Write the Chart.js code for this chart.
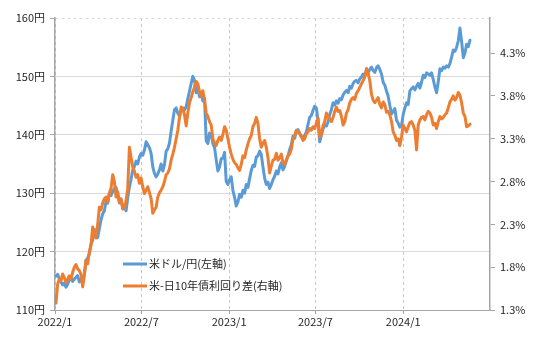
<!DOCTYPE html>
<html lang="ja">
<head>
<meta charset="utf-8">
<script src="https://cdn.jsdelivr.net/npm/chart.js@4.4.1/dist/chart.umd.min.js"></script>
<style>
  html, body { margin: 0; padding: 0; background: #fff; }
  #wrap { width: 540px; height: 341px; }
</style>
</head>
<body>
<div id="wrap"><canvas id="chart-spread" width="540" height="341"></canvas></div>
<script>
// two readings a week (Mon / Thu), starting on this date
const firstDay = "2022-01-03";
const stepDays = 3.5;
const axisStart = "2022-01-01";
const axisEnd = "2024-07-01";
const xTickDates = ["2022-01-01", "2022-07-01", "2023-01-01", "2023-07-01", "2024-01-01"];
const xTickLabels = ["2022/1", "2022/7", "2023/1", "2023/7", "2024/1"];
const yenTicks = [110, 120, 130, 140, 150, 160];
const spreadTicks = [1.3, 1.8, 2.3, 2.8, 3.3, 3.8, 4.3];
const seriesLabels = ["米ドル/円(左軸)", "米-日10年債利回り差(右軸)"];

// 米ドル/円
const usdJpy = [
  115.8, 116.1, 115.4, 114.8, 114.3, 114.6, 113.9, 114.4, 115.2, 115.6,
  114.9, 115.3, 115.6, 115.9, 114.8, 115.3, 115.0, 116.2, 118.5, 118.9,
  119.6, 121.2, 122.0, 123.8, 122.8, 122.4, 124.0, 125.4, 126.5, 127.0,
  128.6, 128.3, 130.0, 129.6, 130.3, 130.8, 131.0, 129.7, 128.5, 128.9,
  127.3, 127.9, 127.0, 129.2, 131.0, 132.4, 134.0, 134.6, 135.5, 135.0,
  136.2, 136.8, 136.5, 137.4, 138.8, 138.3, 137.8, 136.8, 134.5, 133.4,
  132.8, 133.3, 134.0, 135.0, 133.8, 134.9, 137.2, 137.6, 138.6, 140.6,
  142.5, 144.3, 144.6, 143.7, 143.2, 144.2, 144.6, 144.3, 144.8, 146.2,
  147.5, 148.8, 150.0, 149.3, 147.2, 148.0, 146.5, 147.3, 145.8, 146.2,
  139.0, 138.5, 140.3, 140.0, 138.5, 137.8, 135.7, 133.8, 134.5, 135.9,
  136.0, 137.0, 132.0, 131.5, 132.3, 132.8, 130.5, 129.3, 127.8, 128.5,
  129.8, 129.3, 130.5, 130.0, 131.5, 131.0, 132.5, 133.9, 134.8, 134.6,
  136.2, 136.4, 137.2, 136.6, 134.5, 132.6, 131.5, 131.9, 130.8, 131.5,
  132.3, 132.9, 133.8, 133.3, 134.5, 135.2, 134.0, 134.6, 135.6, 136.4,
  137.5, 138.3, 139.8, 139.4, 140.6, 140.9, 140.2, 139.6, 139.5, 139.9,
  140.5, 141.8, 143.0, 143.3, 144.2, 144.9, 144.6, 142.4, 138.8, 139.9,
  141.0, 141.7, 141.5, 142.2, 143.5, 144.3, 145.5, 145.1, 145.8, 145.4,
  146.2, 146.0, 146.8, 147.3, 147.6, 147.2, 148.3, 148.0, 148.8, 149.2,
  149.3, 148.9, 149.6, 149.9, 150.4, 150.2, 150.8, 150.6, 151.2, 151.6,
  151.0, 150.7, 151.5, 151.8, 151.2, 150.4, 149.0, 148.5, 147.5, 146.6,
  145.0, 143.6, 144.0, 144.5, 142.5, 142.0, 141.3, 141.6, 143.5, 144.6,
  145.5, 145.2, 147.5, 147.9, 148.2, 147.7, 148.3, 148.8, 148.0, 149.0,
  150.2, 149.8, 150.6, 150.4, 150.2, 150.6, 149.5, 148.2, 147.2, 149.1,
  151.3, 151.0, 151.6, 151.4, 151.8, 151.6, 152.2, 153.3, 154.5, 154.3,
  155.0, 156.1, 158.3, 156.0, 153.2, 154.0, 155.5, 155.1, 156.2
];

// 米10年債利回り - 日10年債利回り (%)
const spread = [
  1.38, 1.60, 1.66, 1.64, 1.72, 1.68, 1.62, 1.66, 1.70, 1.66,
  1.74, 1.80, 1.83, 1.78, 1.76, 1.72, 1.57, 1.70, 1.88, 1.84,
  1.98, 2.06, 2.27, 2.20, 2.14, 2.30, 2.50, 2.47, 2.55, 2.60,
  2.62, 2.56, 2.67, 2.72, 2.88, 2.80, 2.62, 2.68, 2.55, 2.60,
  2.50, 2.48, 2.58, 2.72, 3.20, 3.08, 2.97, 2.92, 2.85, 2.88,
  2.78, 2.84, 2.74, 2.66, 2.70, 2.74, 2.67, 2.60, 2.43, 2.47,
  2.50, 2.62, 2.67, 2.70, 2.74, 2.80, 2.88, 2.90, 2.95, 3.05,
  3.12, 3.20, 3.30, 3.40, 3.55, 3.67, 3.65, 3.58, 3.45, 3.60,
  3.72, 3.78, 3.85, 3.90, 3.97, 3.94, 3.85, 3.80, 3.86, 3.75,
  3.60, 3.56, 3.50, 3.46, 3.30, 3.25, 3.22, 3.28, 3.32, 3.28,
  3.35, 3.44, 3.40, 3.30, 3.20, 3.12, 3.06, 3.02, 3.00, 2.96,
  2.93, 3.00, 3.10, 3.08, 3.17, 3.24, 3.30, 3.34, 3.44, 3.48,
  3.55, 3.48, 3.30, 3.20, 3.25, 3.28, 3.20, 3.08, 2.90, 2.98,
  3.05, 3.06, 3.13, 3.05, 3.08, 3.12, 3.02, 3.00, 3.05, 3.10,
  3.12, 3.18, 3.30, 3.34, 3.40, 3.38, 3.36, 3.33, 3.28, 3.30,
  3.36, 3.38, 3.42, 3.40, 3.44, 3.42, 3.48, 3.54, 3.32, 3.36,
  3.45, 3.50, 3.60, 3.56, 3.53, 3.50, 3.55, 3.62, 3.67, 3.62,
  3.63, 3.56, 3.46, 3.50, 3.60, 3.64, 3.72, 3.76, 3.78, 3.76,
  3.83, 3.86, 3.90, 3.94, 3.98, 4.02, 4.12, 4.06, 3.98, 3.82,
  3.75, 3.72, 3.75, 3.78, 3.70, 3.66, 3.73, 3.70, 3.61, 3.62,
  3.58, 3.50, 3.38, 3.34, 3.28, 3.30, 3.22, 3.32, 3.46, 3.42,
  3.38, 3.44, 3.49, 3.50, 3.46, 3.40, 3.17, 3.46, 3.52, 3.55,
  3.56, 3.52, 3.58, 3.62, 3.60, 3.55, 3.46, 3.48, 3.42, 3.50,
  3.56, 3.53, 3.55, 3.58, 3.60, 3.66, 3.73, 3.76, 3.80, 3.75,
  3.78, 3.84, 3.81, 3.72, 3.60, 3.56, 3.44, 3.45, 3.47
];

const BLUE = "#5b9bd5";
const ORANGE = "#ed7d31";
const AXIS_GRAY = "#a6a6a6";
const GRID_GRAY = "#d9d9d9";
const TEXT = "#262626";

function dayOffset(date) {
  return (Date.parse(date) - Date.parse(axisStart)) / 86400000;
}

function toPoints(values) {
  const start = dayOffset(firstDay);
  return values.map((v, i) => ({ x: start + stepDays * i, y: v }));
}

// legend drawn inside the plot, lower left
const insideLegend = {
  id: "insideLegend",
  afterDatasetsDraw(chart) {
    const ctx = chart.ctx;
    const { left, bottom } = chart.chartArea;
    const x0 = left + 68;
    ctx.save();
    ctx.font = '11px "Noto Sans CJK JP", sans-serif';
    ctx.textBaseline = "middle";
    chart.data.datasets.forEach((ds, i) => {
      const y = bottom - 46 + i * 22;
      ctx.strokeStyle = ds.borderColor;
      ctx.lineWidth = 3;
      ctx.beginPath();
      ctx.moveTo(x0, y);
      ctx.lineTo(x0 + 24, y);
      ctx.stroke();
      ctx.fillStyle = TEXT;
      ctx.fillText(seriesLabels[i], x0 + 26, y);
    });
    ctx.restore();
  }
};

Chart.defaults.font.family = '"Noto Sans CJK JP", "Noto Sans", sans-serif';
Chart.defaults.font.size = 11;
Chart.defaults.color = TEXT;

new Chart(document.getElementById("chart-spread"), {
  type: "line",
  data: {
    datasets: [
      { label: seriesLabels[0], data: toPoints(usdJpy), yAxisID: "yen", borderColor: BLUE, borderWidth: 3, pointRadius: 0, order: 2 },
      { label: seriesLabels[1], data: toPoints(spread), yAxisID: "pct", borderColor: ORANGE, borderWidth: 3, pointRadius: 0, order: 1 },
    ],
  },
  options: {
    responsive: false,
    animation: false,
    events: [],
    layout: { padding: { top: 18, left: 0, right: 0, bottom: 0 } },
    plugins: { legend: { display: false }, tooltip: { enabled: false } },
    elements: { line: { tension: 0, borderJoinStyle: "round", borderCapStyle: "round" } },
    scales: {
      x: {
        type: "linear",
        min: 0,
        max: dayOffset(axisEnd),
        afterBuildTicks: (scale) => { scale.ticks = xTickDates.map((d) => ({ value: dayOffset(d) })); },
        afterFit: (scale) => { scale.height = 31; },
        ticks: { autoSkip: false, maxRotation: 0, padding: 1, callback: (value, index) => xTickLabels[index] },
        grid: { color: "#c8c8c8", tickColor: AXIS_GRAY, tickLength: 4 },
        border: { color: AXIS_GRAY, width: 1, dash: [3, 3] },
      },
      yen: {
        type: "linear",
        position: "left",
        min: 110,
        max: 160,
        afterBuildTicks: (scale) => { scale.ticks = yenTicks.map((v) => ({ value: v })); },
        afterFit: (scale) => { scale.width = 55; },
        ticks: { autoSkip: false, padding: 5, callback: (value) => `${value}円` },
        grid: { color: GRID_GRAY, tickColor: AXIS_GRAY, tickLength: 5 },
        border: { color: AXIS_GRAY, width: 1.5, dash: (ctx) => (ctx.tick && ctx.tick.value === 160 ? [3, 3] : []) },
      },
      pct: {
        type: "linear",
        position: "right",
        min: 1.3,
        max: 4.71,
        afterBuildTicks: (scale) => { scale.ticks = spreadTicks.map((v) => ({ value: v })); },
        afterFit: (scale) => { scale.width = 50; },
        ticks: { autoSkip: false, padding: 5, callback: (value) => `${value.toFixed(1)}%` },
        grid: { drawOnChartArea: false, tickColor: AXIS_GRAY, tickLength: 5 },
        border: { color: AXIS_GRAY, width: 1.5 },
      },
    },
  },
  plugins: [insideLegend],
});
</script>
</body>
</html>
